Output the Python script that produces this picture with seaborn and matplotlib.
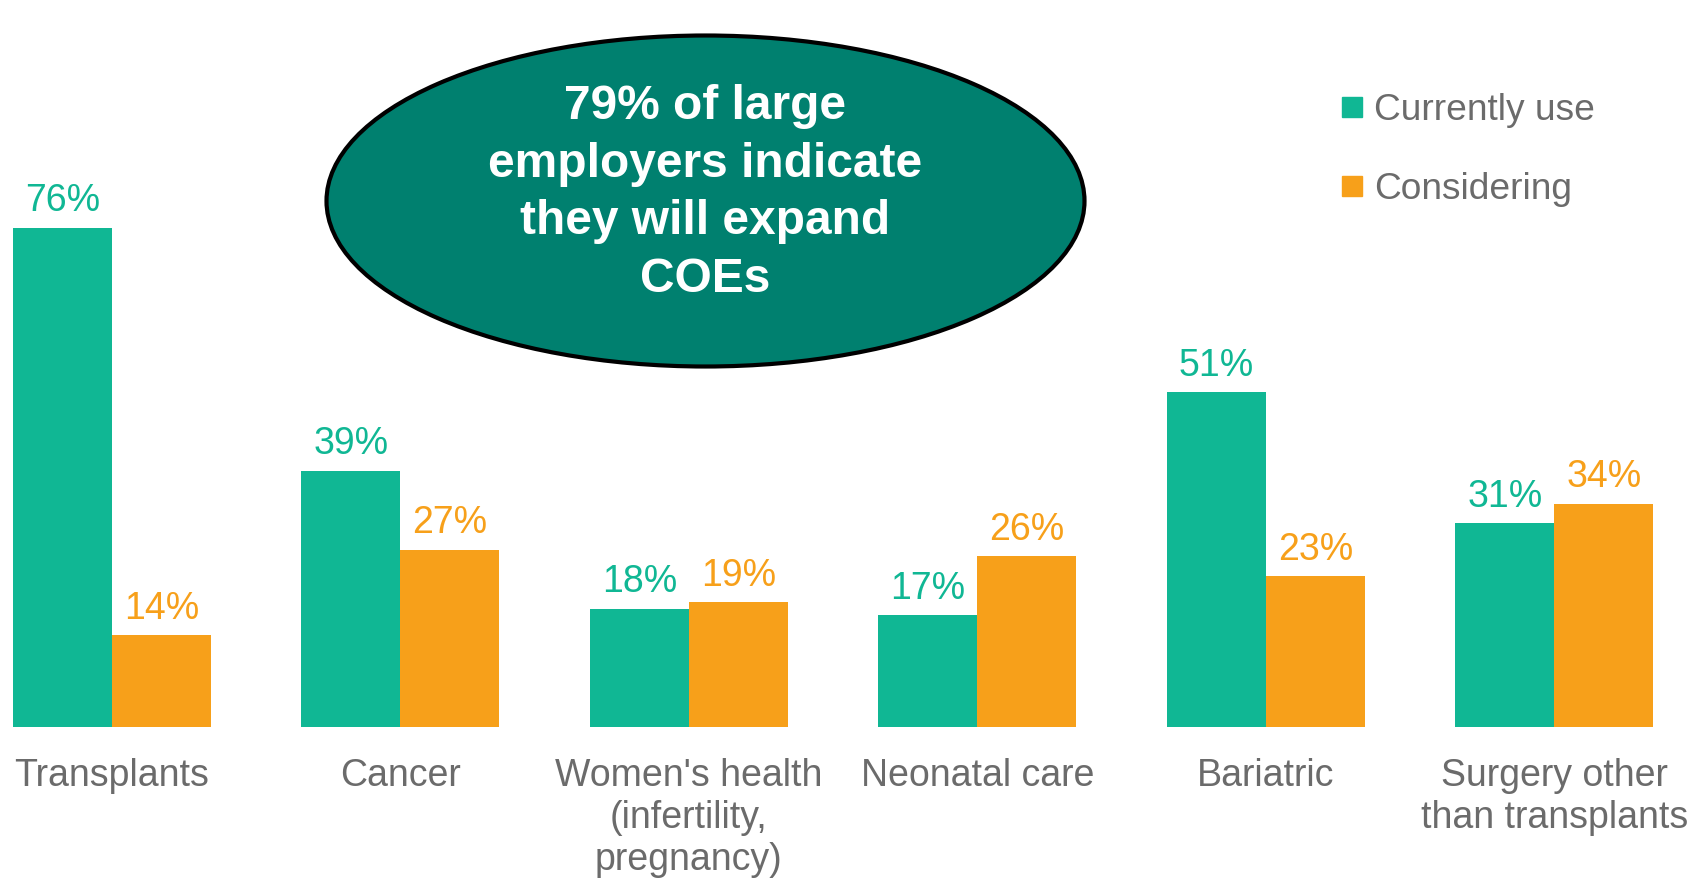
import matplotlib
matplotlib.use("Agg")
import matplotlib.pyplot as plt
from matplotlib.patches import Ellipse
from matplotlib.lines import Line2D
import seaborn as sns
import pandas as pd

categories = ["Transplants", "Cancer", "Women's health\n(infertility,\npregnancy)",
              "Neonatal care", "Bariatric", "Surgery other\nthan transplants"]
currently_use = [76, 39, 18, 17, 51, 31]
considering = [14, 27, 19, 26, 23, 34]
series_names = ["Currently use", "Considering"]
callout = "79% of large\nemployers indicate\nthey will expand\nCOEs"

GREEN = "#10B794"
ORANGE = "#F7A01A"
TEAL = "#00806F"
GRAY = "#6B6B6B"

df = pd.DataFrame({
    "category": categories * 2,
    "series": [series_names[0]] * len(categories) + [series_names[1]] * len(categories),
    "value": currently_use + considering,
})

sns.set_theme(style="white")
plt.rcParams["font.family"] = ["Liberation Sans", "DejaVu Sans"]

fig = plt.figure(figsize=(17.07, 8.8), dpi=100)
ax = fig.add_axes([0, 153 / 880, 1, 657 / 880])

sns.barplot(data=df, x="category", y="value", hue="series", order=categories,
            hue_order=series_names, palette=[GREEN, ORANGE], width=0.686,
            gap=0, saturation=1, linewidth=0, legend=False, ax=ax)

for container, color in zip(ax.containers, [GREEN, ORANGE]):
    ax.bar_label(container, labels=[f"{int(round(b.get_height()))}%" for b in container],
                 padding=6, color=color, fontsize=27)

ax.set_xlim(-0.388, 5.529)
ax.set_ylim(0, 100)
ax.set_xlabel("")
ax.set_ylabel("")
ax.set_yticks([])
ax.tick_params(axis="x", length=0, pad=22, labelsize=27, labelcolor=GRAY)
for lbl in ax.get_xticklabels():
    lbl.set_linespacing(1.23)
for s in ax.spines.values():
    s.set_visible(False)

# Callout bubble
ell = Ellipse((705.5 / 1707, 1 - 201 / 880), 758 / 1707, 331 / 880,
              transform=fig.transFigure, facecolor=TEAL, edgecolor="black",
              linewidth=3, zorder=5)
fig.add_artist(ell)
fig.text(705.5 / 1707, 1 - 193 / 880, callout, ha="center", va="center",
         color="white", fontsize=34.5, fontweight="bold", linespacing=1.37, zorder=6)

# Legend
handles = [Line2D([], [], marker="s", linestyle="none", markersize=14,
                  markerfacecolor=c, markeredgecolor=c) for c in [GREEN, ORANGE]]
fig.legend(handles, series_names, loc="upper left",
           bbox_to_anchor=(1315 / 1707, 1 - 74 / 880), frameon=False,
           fontsize=26.7, labelcolor=GRAY, labelspacing=1.2,
           handletextpad=0.1, handlelength=1.0, borderpad=0)

fig.savefig("out.png", dpi=100, facecolor="white")
